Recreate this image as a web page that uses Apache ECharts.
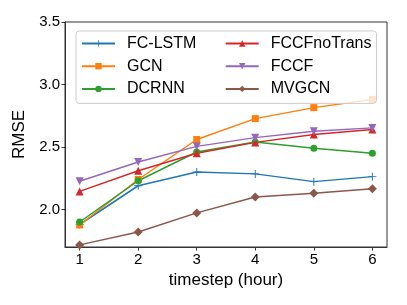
<!DOCTYPE html>
<html><head><meta charset="utf-8">
<script src="https://cdn.jsdelivr.net/npm/echarts@6/dist/echarts.min.js"></script>
<style>html,body{margin:0;padding:0;background:#fff}#c{width:407px;height:305px}</style>
</head><body><div id="c"></div>
<script>
const timesteps = [1, 2, 3, 4, 5, 6];
const xTicks = [1, 2, 3, 4, 5, 6];
const yTicks = [2.0, 2.5, 3.0, 3.5];
const fcLstm = [1.88, 2.19, 2.30, 2.285, 2.223, 2.263];
const gcn = [1.876, 2.24, 2.56, 2.727, 2.815, 2.88];
const dcrnn = [1.90, 2.23, 2.46, 2.54, 2.49, 2.45];
const fccfNoTrans = [2.145, 2.31, 2.45, 2.537, 2.60, 2.64];
const fccf = [2.226, 2.38, 2.505, 2.575, 2.626, 2.653];
const mvgcn = [1.717, 1.82, 1.973, 2.10, 2.13, 2.166];

const FONT = 'Liberation Sans';
const plus = 'path://M4.4,0h1.2v4.4h4.4v1.2h-4.4v4.4h-1.2v-4.4h-4.4v-1.2h4.4z';
const diamond = 'path://M5,0L10,5L5,10L0,5Z';
function pts(arr){ return timesteps.map((t,i)=>[t,arr[i]]); }
function mk(name, data, color, symbol, size, rot){
  return {name, type:'line', data:pts(data), symbol, symbolSize:size, symbolRotate:rot||0,
    lineStyle:{color, width:1.5}, itemStyle:{color}, animation:false};
}
const chart = echarts.init(document.getElementById('c'));
chart.setOption({
  animation:false,
  grid:{left:65, right:20, top:22, bottom:58, show:true, borderColor:'#333', borderWidth:1},
  xAxis:{type:'value', min:0.75, max:6.25,
    name:'timestep (hour)', nameLocation:'middle', nameGap:22,
    nameTextStyle:{fontFamily:FONT, fontSize:17, color:'#000'},
    axisLine:{show:true, lineStyle:{color:'#333'}},
    axisTick:{show:true, length:3.5, customValues:xTicks, lineStyle:{color:'#333'}},
    axisLabel:{customValues:xTicks, fontFamily:FONT, fontSize:15, color:'#000', margin:5},
    splitLine:{show:false}},
  yAxis:{type:'value', min:1.7, max:3.5,
    name:'RMSE', nameLocation:'middle', nameGap:27, nameRotate:90,
    nameTextStyle:{fontFamily:FONT, fontSize:17, color:'#000'},
    axisLine:{show:true, lineStyle:{color:'#333'}},
    axisTick:{show:true, length:3.5, customValues:yTicks, lineStyle:{color:'#333'}},
    axisLabel:{customValues:yTicks, fontFamily:FONT, fontSize:15, color:'#000', margin:5,
      formatter:v=>v.toFixed(1)},
    splitLine:{show:false}},
  legend:{left:76, top:31, width:301, orient:'horizontal',
    data:['FC-LSTM','FCCFnoTrans','GCN','FCCF','DCRNN','MVGCN'],
    itemWidth:33, itemHeight:8, itemGap:5.7,
    padding:[4,5,6,5],
    backgroundColor:'rgba(255,255,255,0.8)', borderColor:'#ccc', borderWidth:1, borderRadius:3,
    textStyle:{fontFamily:FONT, fontSize:16, color:'#000', width:92, padding:[0,0,0,7], lineHeight:17}},
  series:[
    mk('FC-LSTM', fcLstm, '#1f77b4', plus, 8),
    mk('GCN', gcn, '#ff7f0e', 'rect', 7),
    mk('DCRNN', dcrnn, '#2ca02c', 'circle', 7),
    mk('FCCFnoTrans', fccfNoTrans, '#d62728', 'triangle', 8),
    mk('FCCF', fccf, '#9467bd', 'triangle', 8, 180),
    mk('MVGCN', mvgcn, '#8c564b', diamond, 9)
  ]
});
</script></body></html>
